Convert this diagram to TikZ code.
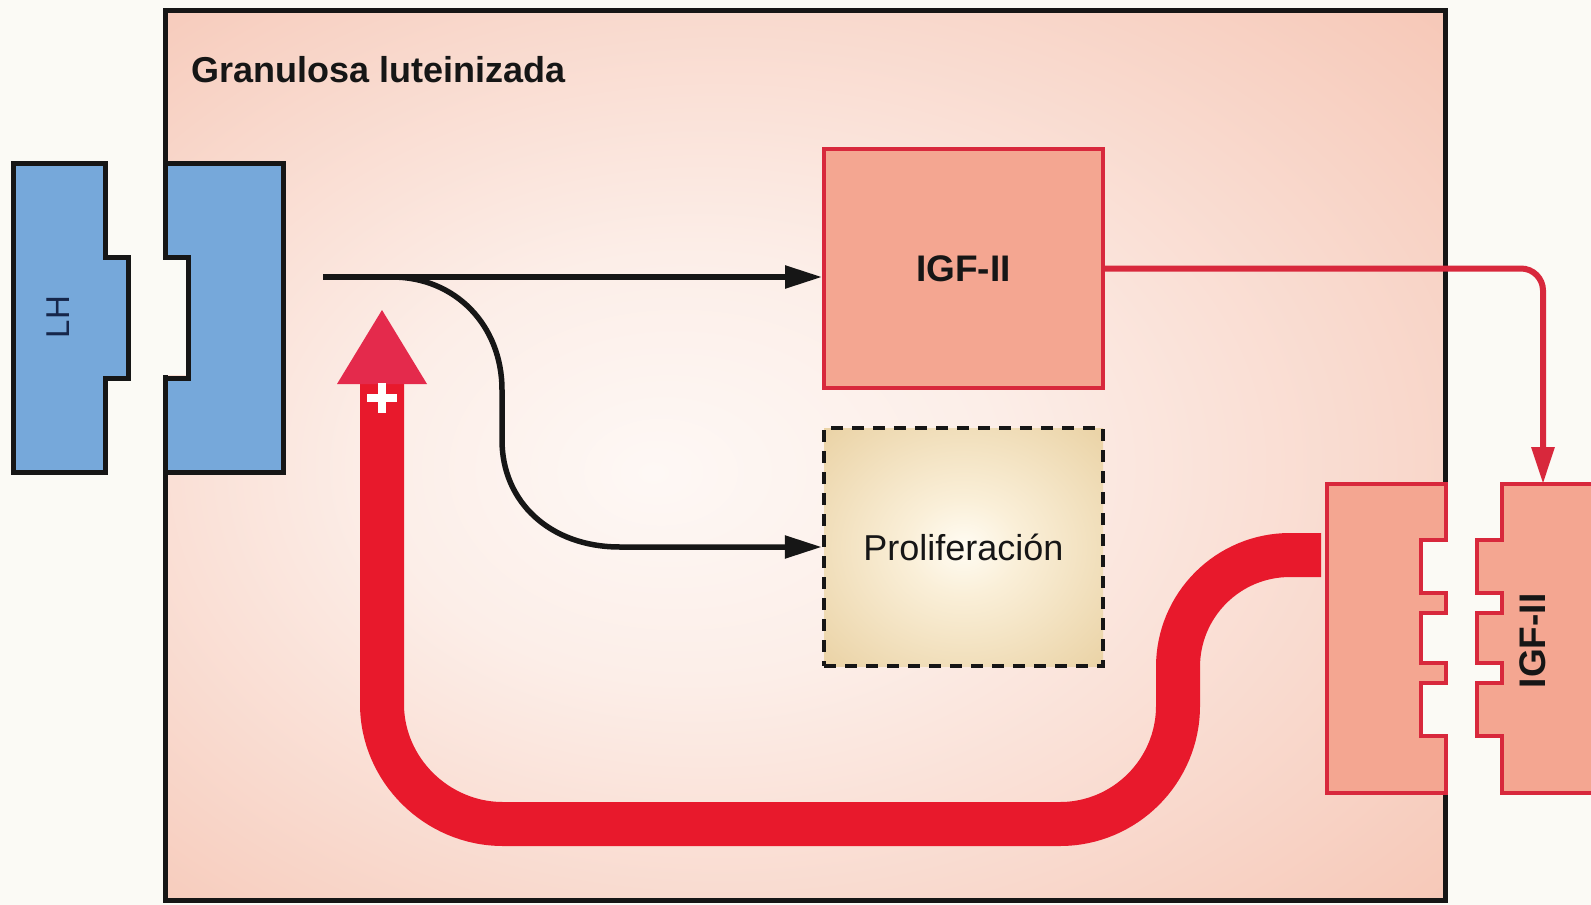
\documentclass[tikz,border=0pt]{standalone}
\usepackage{fontspec}
\setmainfont{Liberation Sans}
\usetikzlibrary{arrows.meta}
\definecolor{bg}{HTML}{FBFAF5}
\definecolor{cellin}{HTML}{FEF8F5}
\definecolor{cellmid}{HTML}{FCEEE8}
\definecolor{cellout}{HTML}{F6C6B5}
\definecolor{profin}{HTML}{FFFCF3}
\definecolor{profmid}{HTML}{FAEFD8}
\definecolor{profout}{HTML}{E6CB98}
\definecolor{lhblue}{HTML}{76A8DA}
\definecolor{igffill}{HTML}{F4A691}
\definecolor{igfline}{HTML}{D8283C}
\definecolor{bandred}{HTML}{E8192C}
\definecolor{headred}{HTML}{E42A4C}
\definecolor{ink}{HTML}{161616}
\definecolor{navy}{HTML}{16264A}
\pgfdeclareradialshading{cellshade}{\pgfpoint{-6bp}{-1bp}}{color(0bp)=(cellin); color(12bp)=(cellmid); color(38bp)=(cellout); color(50bp)=(cellout)}
\pgfdeclareradialshading{profshade}{\pgfpoint{0bp}{0bp}}{color(0bp)=(profin); color(10bp)=(profmid); color(42bp)=(profout); color(50bp)=(profout)}
\tikzset{
  regtxt/.style={font=\fontsize{36}{40}\selectfont, text=ink},
  boldtxt/.style={font=\fontsize{36}{40}\selectfont\bfseries, text=ink},
  igfbox/.style={draw=igfline, line width=4pt, fill=igffill, minimum width=279pt, minimum height=239pt, inner sep=0pt},
  profbox/.style={draw=ink, line width=4.5pt, dash pattern=on 12pt off 9pt, shade, shading=profshade, minimum width=279pt, minimum height=238pt, inner sep=0pt},
  sigarrow/.style={draw=ink, line width=5.5pt, -{Triangle[length=37pt,width=22pt]}},
  redarrow/.style={draw=igfline, line width=6pt, -{Triangle[length=37pt,width=22pt]}, rounded corners=22pt},
  lhpart/.style={draw=ink, line width=5pt, fill=lhblue, line join=miter},
  igfpart/.style={draw=igfline, line width=4pt, fill=igffill, line join=miter},
  band/.style={draw=bandred, line width=44pt},
}
\begin{document}
\begin{tikzpicture}[x=1pt,y=-1pt]
\useasboundingbox (0,0) rectangle (1591,905);
\clip (0,0) rectangle (1591,905);
\fill[bg] (0,0) rectangle (1591,905);
% cell
\shade[shading=cellshade] (165,10) rectangle (1445,900);
\draw[ink, line width=5pt] (165,10) rectangle (1445,900);
% openings in the membrane (receptor notches)
\fill[bg] (161,260) rectangle (188,375);
\fill[bg] (1421,540) rectangle (1449,593);
\fill[bg] (1421,613) rectangle (1449,663);
\fill[bg] (1421,683) rectangle (1449,736);
% LH ligand and receptor
\draw[lhpart] (13,163) -- (105,163) -- (105,257) -- (128,257) -- (128,378) -- (105,378) -- (105,472) -- (13,472) -- cycle;
\draw[lhpart] (165,163) -- (283,163) -- (283,472) -- (165,472) -- (165,378) -- (188,378) -- (188,257) -- (165,257) -- cycle;
\node[font=\fontsize{33}{36}\selectfont, text=navy, rotate=90] (lhlbl) at (58,317) {LH};
% IGF-II receptor and ligand
\draw[igfpart] (1327,484) -- (1446,484) -- (1446,540) -- (1421,540) -- (1421,593) -- (1446,593) -- (1446,613) -- (1421,613) -- (1421,663) -- (1446,663) -- (1446,683) -- (1421,683) -- (1421,736) -- (1446,736) -- (1446,793) -- (1327,793) -- cycle;
\draw[igfpart] (1502,484) -- (1596,484) -- (1596,793) -- (1502,793) -- (1502,736) -- (1477,736) -- (1477,683) -- (1502,683) -- (1502,663) -- (1477,663) -- (1477,613) -- (1502,613) -- (1502,593) -- (1477,593) -- (1477,540) -- (1502,540) -- cycle;
\node[font=\fontsize{37}{40}\selectfont\bfseries, text=ink, rotate=90] (iglbl) at (1533,641) {IGF-II};
% boxes
\node[igfbox, font=\fontsize{37}{40}\selectfont\bfseries, text=ink] (igf) at (963.5,268.5) {IGF-II};
\node[profbox, regtxt] (prolif) at (963.5,547) {Proliferación};
% signal arrows
\coordinate (sig) at (323,277);
\draw[sigarrow] (sig) -- (sig -| igf.west);
\draw[sigarrow] (sig) -- (392,277) .. controls (455,277) and (502,325) .. (502,390) -- (502,440) .. controls (502,502) and (550,547) .. (620,547) -- (prolif.west);
% IGF-II secretion
\coordinate (ligtop) at (1543,484);
\draw[redarrow] (igf.east) -| (ligtop);
% feedback band
\coordinate (bandstart) at (1321,555);
\coordinate (bandtip) at (382,383);
\draw[band] (bandstart) -- (1290,555) .. controls (1228,555) and (1178,605) .. (1178,667) -- (1178,706) .. controls (1178,771) and (1125,824) .. (1060,824) -- (503,824) .. controls (437,824) and (382,770) .. (382,704) -- (bandtip);
\fill[headred] (337,384) -- (427,384) -- (382,310) -- cycle;
\fill[white] (367,394) rectangle (397,402);
\fill[white] (378,383) rectangle (386,413);
% title
\node[boldtxt, anchor=base west, inner sep=0pt] (title) at (191,82) {Granulosa luteinizada};
\end{tikzpicture}
\end{document}
